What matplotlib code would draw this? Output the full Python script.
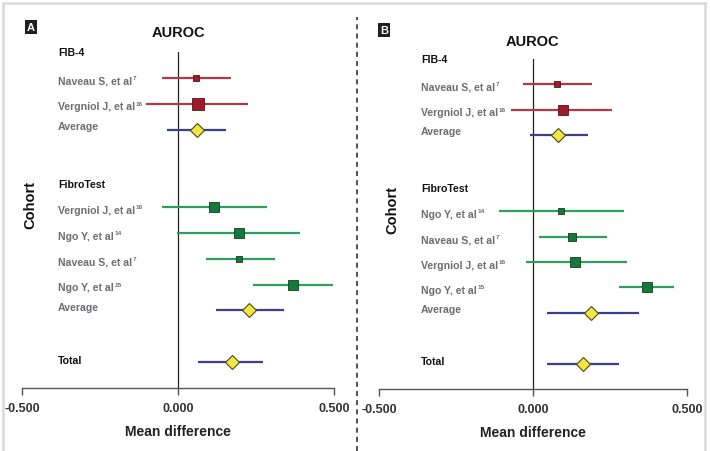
import matplotlib
matplotlib.use("Agg")
import matplotlib.pyplot as plt
from matplotlib.patches import Rectangle
from matplotlib.lines import Line2D
from matplotlib.transforms import blended_transform_factory

plt.rcParams["font.family"] = ["Liberation Sans", "DejaVu Sans"]

# ---- data (mean difference in AUROC with 95% CI) ----
# Panel A
a_fib4_labels = [("Naveau S, et al", "7"), ("Vergniol J, et al", "16"), ("Average", "")]
a_fib4_mean = [0.058, 0.064, 0.061]
a_fib4_lo = [-0.052, -0.103, -0.036]
a_fib4_hi = [0.170, 0.224, 0.155]

a_ft_labels = [("Vergniol J, et al", "16"), ("Ngo Y, et al", "14"), ("Naveau S, et al", "7"),
               ("Ngo Y, et al", "15"), ("Average", "")]
a_ft_mean = [0.114, 0.196, 0.196, 0.368, 0.228]
a_ft_lo = [-0.051, -0.002, 0.090, 0.241, 0.122]
a_ft_hi = [0.286, 0.391, 0.311, 0.497, 0.339]

a_total = [0.172, 0.065, 0.271]

# Panel B
b_fib4_labels = [("Naveau S, et al", "7"), ("Vergniol J, et al", "16"), ("Average", "")]
b_fib4_mean = [0.078, 0.097, 0.081]
b_fib4_lo = [-0.033, -0.071, -0.010]
b_fib4_hi = [0.192, 0.256, 0.178]

b_ft_labels = [("Ngo Y, et al", "14"), ("Naveau S, et al", "7"), ("Vergniol J, et al", "16"),
               ("Ngo Y, et al", "15"), ("Average", "")]
b_ft_mean = [0.091, 0.126, 0.136, 0.370, 0.188]
b_ft_lo = [-0.110, 0.019, -0.023, 0.279, 0.045]
b_ft_hi = [0.296, 0.240, 0.305, 0.458, 0.344]

b_total = [0.162, 0.045, 0.279]

ticks = [-0.5, 0.0, 0.5]
tick_labels = ["-0.500", "0.000", "0.500"]

# ---- styles ----
red_line, red_box = "#b23a45", "#9c1c2e"
green_line, green_box = "#2f9e5c", "#17783c"
navy = "#3b3f91"
yellow = "#f2e640"
gray_txt = "#6d6e71"
a_fib4_box = [5, 8]
a_ft_box = [7, 7, 5, 7]
b_fib4_box = [5, 7]
b_ft_box = [4, 6, 7, 7]

W, H = 710, 452
fig = plt.figure(figsize=(7.1, 4.52), dpi=100)


def px_axes(x0, x1, ytop, ybot):
    return fig.add_axes([x0 / W, 1 - ybot / H, (x1 - x0) / W, (ybot - ytop) / H])


def panel(ax, fib4, ft, total, fib4_box, ft_box, label_px, letter, letter_px, cohort_px, auroc_px):
    ax.set_xlim(-0.5, 0.5)
    ax.set_ylim(13, 0)
    ax.patch.set_alpha(0)
    for s in ["left", "right", "top"]:
        ax.spines[s].set_visible(False)
    ax.spines["bottom"].set_color("#555555")
    ax.spines["bottom"].set_linewidth(1.0)
    ax.set_yticks([])
    ax.set_xticks(ticks)
    ax.set_xticklabels(tick_labels, fontsize=9, fontweight="bold", color="#333333")
    ax.tick_params(axis="x", length=5, width=1, color="#555555", pad=5)
    ax.axvline(0, color="#222222", lw=0.9)
    ax.set_xlabel("Mean difference", fontsize=10, fontweight="bold", labelpad=7, color="#222222")

    lab_x = ax.transAxes.inverted().transform(fig.transFigure.transform((label_px / W, 0)))[0]
    xform = blended_transform_factory(ax.transAxes, ax.transData)

    def row_text(y, s, sup="", black=False):
        t = ax.text(lab_x, y, s, transform=xform, ha="left", va="center",
                    fontsize=7.6, fontweight="bold",
                    color="#111111" if black else gray_txt)
        if sup:
            ax.annotate(sup, xy=(1, 1), xycoords=t, xytext=(0.3, 0.5), textcoords="offset points",
                        ha="left", va="top", fontsize=4.6, fontweight="bold", color=gray_txt)

    def draw_rows(labels, mean, lo, hi, rows, line_c, box_c, boxes):
        for i, (lab, m, l, h, y) in enumerate(zip(labels, mean, lo, hi, rows)):
            avg = lab[0] == "Average"
            ax.plot([l, h], [y, y], color=navy if avg else line_c, lw=1.6, solid_capstyle="butt")
            if avg:
                ax.plot(m, y, marker="D", ms=7.5, mfc=yellow, mec="#4a4a1a", mew=0.8)
            else:
                edge = "#0d3d22" if box_c == green_box else "#5a1018"
                ax.plot(m, y, marker="s", ms=boxes[i], mfc=box_c, mec=edge, mew=0.6)
            row_text(y - 0.15 if avg else y + 0.1, lab[0], lab[1])

    row_text(0.0, "FIB-4", black=True)
    draw_rows(fib4[0], fib4[1], fib4[2], fib4[3], [1, 2, 3], red_line, red_box, fib4_box)
    row_text(5.1, "FibroTest", black=True)
    draw_rows(ft[0], ft[1], ft[2], ft[3], [6, 7, 8, 9, 10], green_line, green_box, ft_box)
    m, l, h = total
    ax.plot([l, h], [12, 12], color=navy, lw=1.6, solid_capstyle="butt")
    ax.plot(m, 12, marker="D", ms=7.5, mfc=yellow, mec="#4a4a1a", mew=0.8)
    row_text(11.9, "Total", black=True)

    fig.text(cohort_px[0] / W, 1 - cohort_px[1] / H, "Cohort", rotation=90, ha="center", va="center",
             fontsize=10.5, fontweight="bold", color="#111111")
    fig.text(auroc_px[0] / W, 1 - auroc_px[1] / H, "AUROC", ha="center", va="center",
             fontsize=10.5, fontweight="bold", color="#111111")
    fig.text(letter_px[0] / W, 1 - letter_px[1] / H, letter, ha="center", va="center",
             fontsize=8, fontweight="bold", color="white",
             bbox=dict(boxstyle="square,pad=0.18", fc="#231f20", ec="none"))


axA = px_axes(22, 334, 53, 389)
panel(axA, (a_fib4_labels, a_fib4_mean, a_fib4_lo, a_fib4_hi),
      (a_ft_labels, a_ft_mean, a_ft_lo, a_ft_hi), a_total,
      a_fib4_box, a_ft_box, 58, "A", (31, 28), (30, 205), (178, 33))

axB = px_axes(379, 687, 60, 390)
panel(axB, (b_fib4_labels, b_fib4_mean, b_fib4_lo, b_fib4_hi),
      (b_ft_labels, b_ft_mean, b_ft_lo, b_ft_hi), b_total,
      b_fib4_box, b_ft_box, 421, "B", (384, 31), (392, 210), (532, 42))

# frame and dashed divider
fig.add_artist(Rectangle((3 / W, -0.05), 702 / W, 1.05 - 4 / H, transform=fig.transFigure,
                         fill=False, ec="#d9d9d9", lw=1.8))
fig.add_artist(Line2D([357 / W, 357 / W], [0, 1 - 18 / H], transform=fig.transFigure,
                      color="#333333", lw=1.2, linestyle=(0, (3, 2.5))))

fig.savefig("out.png", dpi=100)
